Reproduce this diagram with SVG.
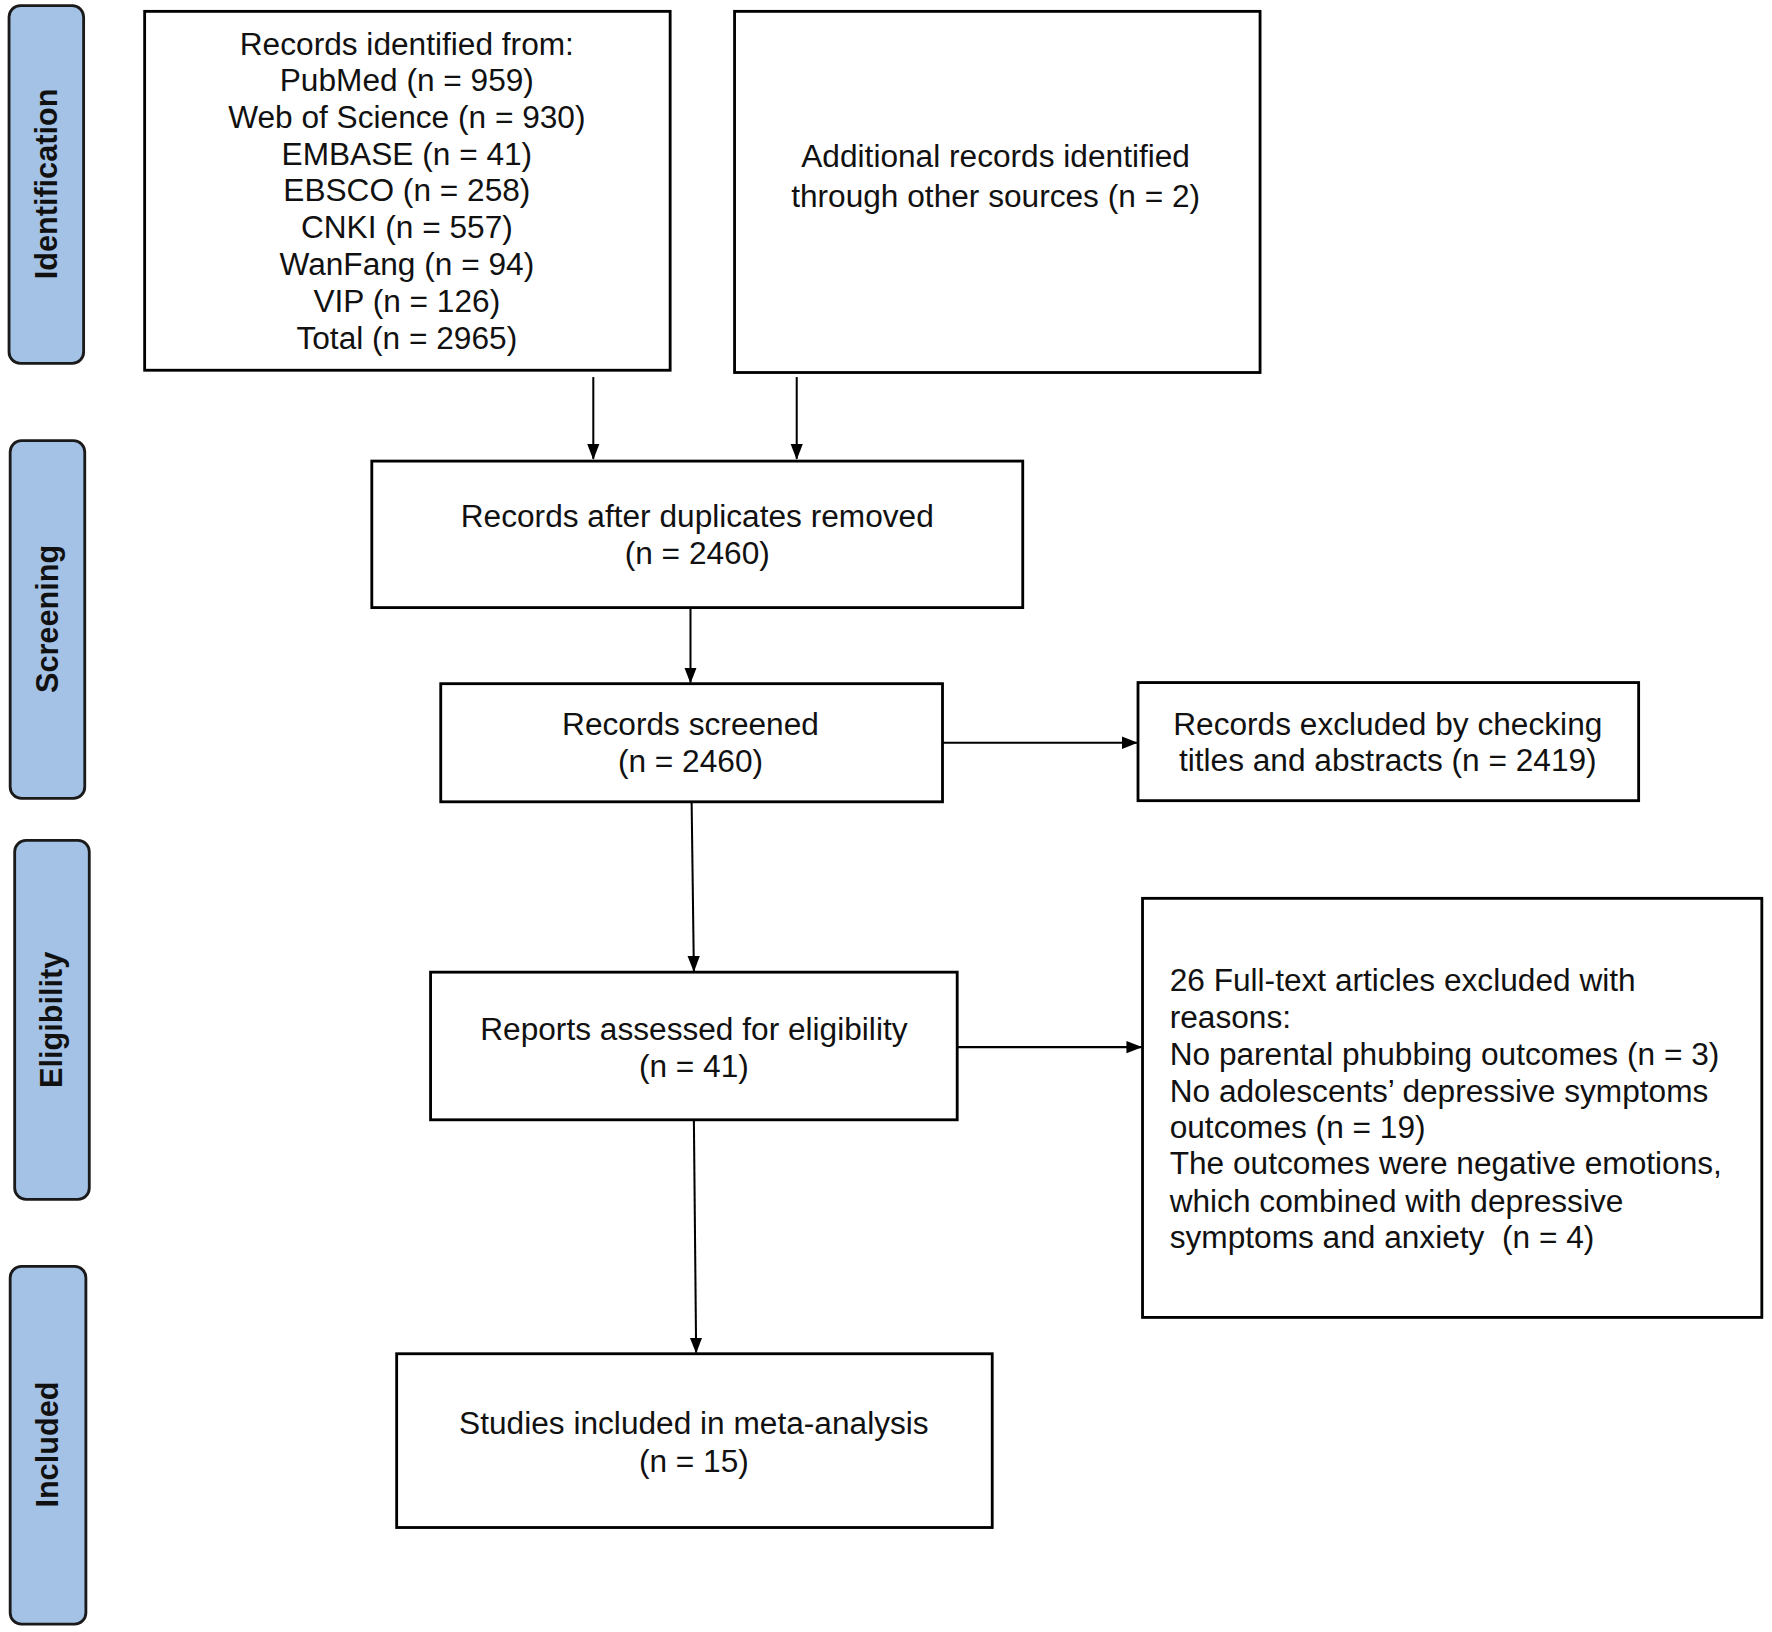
<svg xmlns="http://www.w3.org/2000/svg" width="1772" height="1632" viewBox="0 0 1772 1632">
<defs>
<marker id="ah" markerWidth="14" markerHeight="18" refX="17" refY="7" orient="auto" markerUnits="userSpaceOnUse" viewBox="0 0 18 14"><path d="M0,0 L18,7 L0,14 Z" fill="#000"/></marker>
<style>
.box{fill:#fff;stroke:#000;stroke-width:2.5}
.side{fill:#a4c2e6;stroke:#1a1a1a;stroke-width:2.5}
.t{font-family:"Liberation Sans",Arial,sans-serif;font-size:28px;fill:#111;text-anchor:middle}
.tl{font-family:"Liberation Sans",Arial,sans-serif;font-size:28px;fill:#111}
.s{font-family:"Liberation Sans",Arial,sans-serif;font-size:27px;font-weight:bold;fill:#111;text-anchor:middle}
.c{stroke:#000;stroke-width:1.8;fill:none;marker-end:url(#ah)}
</style>
</defs>
<rect width="1772" height="1632" fill="#fff"/>
<g transform="scale(1.1301,1.1357) translate(0,-2)">
<g id="side-identification"><rect class="side" x="8" y="7" width="66" height="315" rx="10"/><text class="s" transform="translate(50,164) rotate(-90)">Identification</text></g>
<g id="side-screening"><rect class="side" x="9" y="390" width="66" height="315" rx="10"/><text class="s" transform="translate(51,547) rotate(-90)">Screening</text></g>
<g id="side-eligibility"><rect class="side" x="13" y="742" width="66" height="316" rx="10"/><text class="s" transform="translate(55,900) rotate(-90)">Eligibility</text></g>
<g id="side-included"><rect class="side" x="9" y="1117" width="67" height="315" rx="10"/><text class="s" transform="translate(51,1274) rotate(-90)">Included</text></g>

<g id="n-sources"><rect class="box" x="128" y="12" width="465" height="316"/>
<text class="t" x="360" y="50">Records identified from:</text>
<text class="t" x="360" y="82">PubMed (n = 959)</text>
<text class="t" x="360" y="115">Web of Science (n = 930)</text>
<text class="t" x="360" y="147">EMBASE (n = 41)</text>
<text class="t" x="360" y="179">EBSCO (n = 258)</text>
<text class="t" x="360" y="212">CNKI (n = 557)</text>
<text class="t" x="360" y="244">WanFang (n = 94)</text>
<text class="t" x="360" y="277">VIP (n = 126)</text>
<text class="t" x="360" y="309">Total (n = 2965)</text></g>
<g id="n-additional"><rect class="box" x="650" y="12" width="465" height="318"/>
<text class="t" x="881" y="149">Additional records identified</text>
<text class="t" x="881" y="184">through other sources (n = 2)</text></g>
<g id="n-dedup"><rect class="box" x="329" y="408" width="576" height="129"/>
<text class="t" x="617" y="466">Records after duplicates removed</text>
<text class="t" x="617" y="499">(n = 2460)</text></g>
<g id="n-screened"><rect class="box" x="390" y="604" width="444" height="104"/>
<text class="t" x="611" y="649">Records screened</text>
<text class="t" x="611" y="682">(n = 2460)</text></g>
<g id="n-excluded1"><rect class="box" x="1007" y="603" width="443" height="104"/>
<text class="t" x="1228" y="649">Records excluded by checking</text>
<text class="t" x="1228" y="681">titles and abstracts (n = 2419)</text></g>
<g id="n-eligibility"><rect class="box" x="381" y="858" width="466" height="130"/>
<text class="t" x="614" y="918">Reports assessed for eligibility</text>
<text class="t" x="614" y="950">(n = 41)</text></g>
<g id="n-excluded2"><rect class="box" x="1011" y="793" width="548" height="369"/>
<text class="tl" x="1035" y="875">26 Full-text articles excluded with</text>
<text class="tl" x="1035" y="907">reasons:</text>
<text class="tl" x="1035" y="940">No parental phubbing outcomes (n = 3)</text>
<text class="tl" x="1035" y="972">No adolescents’ depressive symptoms</text>
<text class="tl" x="1035" y="1004">outcomes (n = 19)</text>
<text class="tl" x="1035" y="1036">The outcomes were negative emotions,</text>
<text class="tl" x="1035" y="1069">which combined with depressive</text>
<text class="tl" x="1035" y="1101" xml:space="preserve">symptoms and anxiety  (n = 4)</text></g>
<g id="n-included"><rect class="box" x="351" y="1194" width="527" height="153"/>
<text class="t" x="614" y="1265">Studies included in meta-analysis</text>
<text class="t" x="614" y="1298">(n = 15)</text></g>

<g id="connectors">
<line class="c" x1="525" y1="334" x2="525" y2="406"/>
<line class="c" x1="705" y1="334" x2="705" y2="406"/>
<line class="c" x1="611" y1="537" x2="611" y2="603"/>
<line class="c" x1="834" y1="656" x2="1006" y2="656"/>
<line class="c" x1="612" y1="708" x2="614" y2="857"/>
<line class="c" x1="847" y1="924" x2="1010" y2="924"/>
<line class="c" x1="614" y1="988" x2="616" y2="1193"/>
</g>
</g>
</svg>
